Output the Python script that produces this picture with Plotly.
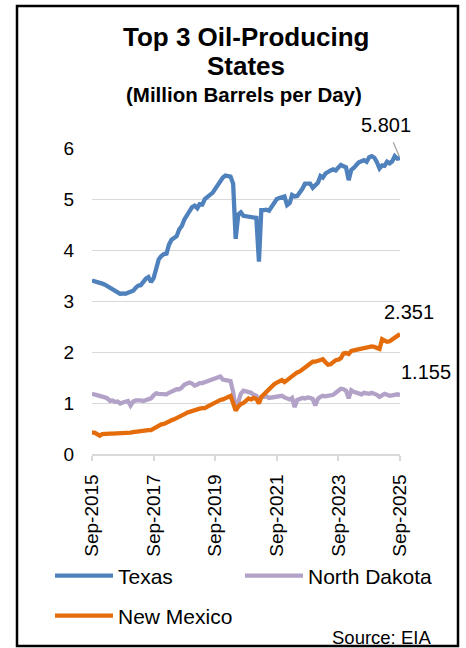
import plotly.graph_objects as go
import pandas as pd

# ---------------- data ----------------
months = pd.date_range("2015-09-01", "2025-09-01", freq="MS").strftime("%Y-%m-%d").tolist()

texas = [3.40, 3.39, 3.37, 3.35, 3.34, 3.32, 3.29, 3.26, 3.22, 3.18,
         3.15, 3.14, 3.15, 3.14, 3.16, 3.17, 3.20, 3.26, 3.30, 3.31,
         3.38, 3.44, 3.47, 3.37, 3.45, 3.65, 3.82, 3.88, 3.92, 3.93,
         4.10, 4.20, 4.24, 4.27, 4.40, 4.47, 4.60, 4.68, 4.74, 4.84,
         4.87, 4.82, 4.90, 4.89, 5.00, 5.03, 5.08, 5.12, 5.20, 5.28,
         5.35, 5.42, 5.46, 5.45, 5.44, 5.30, 4.22, 4.70, 4.74, 4.67,
         4.66, 4.64, 4.65, 4.64, 4.63, 3.77, 4.78, 4.78, 4.79, 4.77,
         4.85, 4.93, 5.00, 5.02, 5.04, 5.05, 4.88, 4.92, 5.08, 5.05,
         5.06, 5.12, 5.20, 5.30, 5.31, 5.30, 5.22, 5.28, 5.32, 5.45,
         5.42, 5.50, 5.54, 5.56, 5.58, 5.56, 5.62, 5.67, 5.64, 5.62,
         5.37, 5.57, 5.61, 5.66, 5.72, 5.74, 5.76, 5.73, 5.82, 5.84,
         5.81, 5.72, 5.60, 5.66, 5.65, 5.73, 5.70, 5.74, 5.84, 5.79,
         5.801]

north_dakota = [1.18, 1.17, 1.15, 1.14, 1.12, 1.11, 1.09, 1.04, 1.05, 1.02,
                1.03, 0.99, 1.01, 1.03, 1.04, 0.95, 1.03, 1.05, 1.04, 1.05,
                1.04, 1.06, 1.07, 1.09, 1.15, 1.19, 1.18, 1.18, 1.17, 1.17,
                1.20, 1.23, 1.25, 1.27, 1.27, 1.30, 1.36, 1.39, 1.40, 1.38,
                1.34, 1.36, 1.39, 1.39, 1.41, 1.42, 1.44, 1.46, 1.48, 1.50,
                1.52, 1.46, 1.45, 1.44, 1.43, 1.22, 0.86, 1.02, 1.18, 1.24,
                1.23, 1.22, 1.20, 1.16, 1.14, 1.06, 1.12, 1.12, 1.13, 1.10,
                1.11, 1.10, 1.12, 1.13, 1.14, 1.11, 1.09, 1.07, 1.10, 0.92,
                1.06, 1.08, 1.10, 1.09, 1.11, 1.10, 1.08, 0.95, 1.08, 1.12,
                1.14, 1.13, 1.14, 1.15, 1.16, 1.20, 1.25, 1.28, 1.27, 1.24,
                1.09, 1.25, 1.22, 1.20, 1.19, 1.17, 1.20, 1.19, 1.18, 1.20,
                1.19, 1.16, 1.12, 1.16, 1.18, 1.16, 1.14, 1.15, 1.16, 1.17,
                1.155]

new_mexico = [0.42, 0.42, 0.39, 0.36, 0.39, 0.40, 0.41, 0.40, 0.40, 0.40,
              0.40, 0.40, 0.41, 0.41, 0.42, 0.42, 0.43, 0.44, 0.45, 0.45,
              0.46, 0.47, 0.47, 0.47, 0.50, 0.53, 0.56, 0.58, 0.59, 0.62,
              0.64, 0.66, 0.68, 0.70, 0.73, 0.75, 0.78, 0.81, 0.83, 0.84,
              0.85, 0.87, 0.89, 0.90, 0.90, 0.93, 0.96, 0.98, 1.02, 1.04,
              1.06, 1.07, 1.10, 1.12, 1.14, 1.00, 0.85, 0.93, 0.98, 1.00,
              1.04, 1.09, 1.07, 1.10, 1.08, 0.99, 1.12, 1.17, 1.22, 1.27,
              1.34, 1.37, 1.40, 1.43, 1.45, 1.41, 1.45, 1.48, 1.53, 1.58,
              1.60, 1.62, 1.66, 1.70, 1.73, 1.79, 1.81, 1.81, 1.83, 1.84,
              1.86, 1.80, 1.75, 1.76, 1.80, 1.84, 1.85, 1.88, 1.97, 1.98,
              1.96, 2.02, 2.03, 2.04, 2.05, 2.08, 2.09, 2.10, 2.09, 2.11,
              2.10, 2.08, 2.06, 2.25, 2.22, 2.20, 2.21, 2.25, 2.29, 2.31,
              2.351]

tick_vals = ["2015-09-01", "2017-09-01", "2019-09-01", "2021-09-01", "2023-09-01", "2025-09-01"]
tick_text = ["Sep-2015", "Sep-2017", "Sep-2019", "Sep-2021", "Sep-2023", "Sep-2025"]
y_ticks = [0, 1, 2, 3, 4, 5, 6]

# ---------------- layout helpers ----------------
W, H = 466, 648
L, R, T, B = 92, 66, 148, 194
PW, PH = W - L - R, H - T - B


def px(x):
    return (x - L) / PW


def py(y):
    return (H - B - y) / PH


FONT = "Liberation Sans, Arial, sans-serif"
BLUE, PURPLE, ORANGE = "#4f81bd", "#b3a2c7", "#e46c0a"

fig = go.Figure()
fig.add_trace(go.Scatter(x=months, y=texas, name="Texas", mode="lines", legend="legend",
                         line=dict(color=BLUE, width=4.3)))
fig.add_trace(go.Scatter(x=months, y=north_dakota, name="North Dakota", mode="lines", legend="legend2",
                         line=dict(color=PURPLE, width=4.3)))
fig.add_trace(go.Scatter(x=months, y=new_mexico, name="New Mexico", mode="lines", legend="legend3",
                         line=dict(color=ORANGE, width=4.3)))

annotations = [
    dict(text="<b>Top 3 Oil-Producing</b>", x=px(246), y=py(37), font=dict(size=26)),
    dict(text="<b>States</b>", x=px(246), y=py(66), font=dict(size=26)),
    dict(text="<b>(Million Barrels per Day)</b>", x=px(244), y=py(95), font=dict(size=20.5)),
    dict(text="Source: EIA", x=px(433), y=py(637), xanchor="right", font=dict(size=18.5)),
]
for a in annotations:
    a.setdefault("xanchor", "center")
    a.update(xref="paper", yref="paper", yanchor="middle", showarrow=False)
    a["font"]["color"] = "black"
    a["font"]["family"] = FONT

# data labels on last points
fig.add_annotation(x=months[-1], y=texas[-1], text=f"{texas[-1]:.3f}", showarrow=True,
                   arrowhead=0, arrowwidth=1.3, arrowcolor="#a6a6a6", ax=-14, ay=-33,
                   startstandoff=5, standoff=2, font=dict(size=20, color="black", family=FONT))
fig.add_annotation(x=months[-1], y=new_mexico[-1], text=f"{new_mexico[-1]:.3f}", showarrow=False,
                   xshift=9, yshift=22, font=dict(size=20, color="black", family=FONT))
fig.add_annotation(x=months[-1], y=north_dakota[-1], text=f"{north_dakota[-1]:.3f}", showarrow=False,
                   xshift=26, yshift=23, font=dict(size=20, color="black", family=FONT))
for a in annotations:
    fig.add_annotation(**a)

fig.add_shape(type="rect", xref="paper", yref="paper",
              x0=px(17), x1=px(458), y0=py(646), y1=py(6),
              line=dict(color="black", width=2.5), layer="below")

leg_common = dict(xanchor="left", yanchor="middle", itemwidth=58, bgcolor="rgba(0,0,0,0)",
                  font=dict(size=21, color="black", family=FONT), borderwidth=0)

fig.update_layout(
    width=W, height=H,
    margin=dict(l=L, r=R, t=T, b=B, pad=0, autoexpand=False),
    paper_bgcolor="white", plot_bgcolor="white",
    font=dict(family=FONT, color="black", size=19),
    showlegend=True,
    legend=dict(x=px(50), y=py(576), **leg_common),
    legend2=dict(x=px(240), y=py(576), **leg_common),
    legend3=dict(x=px(50), y=py(616), **leg_common),
    xaxis=dict(range=[months[0], months[-1]], tickvals=tick_vals, ticktext=tick_text,
               tickangle=-90, showgrid=False, showline=True, linecolor="#d9d9d9", linewidth=1.5,
               ticks="outside", ticklen=5, tickcolor="#d9d9d9", tickwidth=1.5,
               tickfont=dict(size=19, color="black", family=FONT), zeroline=False,
               ticklabelstandoff=6, automargin=False),
    yaxis=dict(range=[0, 6], tickvals=y_ticks, showgrid=True, gridcolor="#d9d9d9", gridwidth=1.3,
               zeroline=False, showline=False, ticks="",
               tickfont=dict(size=19, color="black", family=FONT), ticklabelstandoff=17,
               automargin=False),
)

fig.write_html("out.html", config={"displayModeBar": False},
               post_script="document.body.style.margin='0';document.body.style.overflow='hidden';")
